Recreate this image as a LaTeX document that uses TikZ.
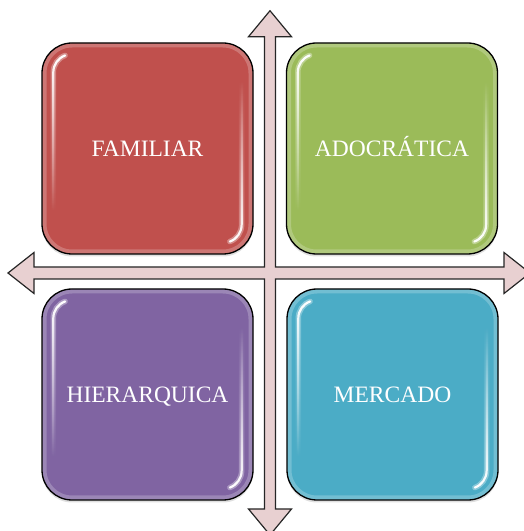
\documentclass[tikz,border=0pt]{standalone}
\usepackage{fontspec}
\setmainfont{Liberation Serif}
\usetikzlibrary{shadows,fadings}

\definecolor{famred}{HTML}{C0504D}
\definecolor{adogreen}{HTML}{9BBB59}
\definecolor{hierpurple}{HTML}{8064A2}
\definecolor{mercblue}{HTML}{4BACC6}
\definecolor{crossfill}{HTML}{E8D0D1}

\tikzset{
  quadbox/.style={
    draw=black, line width=1.3pt, rounded corners=30pt,
    minimum width=211pt, minimum height=211pt, inner sep=0pt,
    text=white, font=\fontsize{23.5}{28}\selectfont,
    text height=16pt, text depth=0pt,
    drop shadow={shadow xshift=0pt, shadow yshift=-2.5pt, opacity=0.25},
    path picture={
      \draw[white, opacity=0.22, line width=9pt, rounded corners=30pt]
        (path picture bounding box.south west) rectangle
        (path picture bounding box.north east);
    }
  },
  shine/.style={white, line width=2.2pt, line cap=round},
  shineglow/.style={white, opacity=0.35, line width=5.5pt, line cap=round},
  crossarrow/.style={fill=crossfill, draw=black!85, line width=1.2pt, line join=miter},
}

% glossy streaks along the inner left and right sides of a box
\newcommand\boxglint[1]{%
  \foreach \sty in {shineglow,shine}{%
    \draw[\sty, path fading=south]
      ([shift={(23.8,-13.1)}]#1.north west)
      arc[start angle=110, end angle=180, radius=18]
      -- ([shift={(12,45)}]#1.south west);
    \draw[\sty, path fading=north]
      ([shift={(-12,-40)}]#1.north east)
      -- ([shift={(-12,30)}]#1.south east)
      arc[start angle=0, end angle=-70, radius=18];
  }%
}

\begin{document}
\begin{tikzpicture}[x=1pt,y=1pt]
  \useasboundingbox (0,0) rectangle (524,531);

  % crossed double-headed block arrows
  \draw[crossarrow]
    (270,520.3) -- (291.5,494.3) -- (275.5,494.3) -- (275.5,264)
    -- (504,264) -- (504,278.5) -- (530,258) -- (504,237.5) -- (504,252)
    -- (275.5,252) -- (275.5,22) -- (291.5,22) -- (270,-4) -- (248.5,22)
    -- (264.5,22) -- (264.5,252) -- (34,252) -- (34,237.5) -- (8,258)
    -- (34,278.5) -- (34,264) -- (264.5,264) -- (264.5,494.3)
    -- (248.5,494.3) -- cycle;

  % the four quadrants
  \node[quadbox, fill=famred]     (fam)  at (147.5,382.5) {FAMILIAR};
  \node[quadbox, fill=adogreen]   (ado)  at (392,382.5)   {ADOCRÁTICA};
  \node[quadbox, fill=hierpurple] (hier) at (147.5,136.5) {HIERARQUICA};
  \node[quadbox, fill=mercblue]   (merc) at (392.5,136.5) {MERCADO};

  \boxglint{fam}
  \boxglint{ado}
  \boxglint{hier}
  \boxglint{merc}
\end{tikzpicture}
\end{document}
